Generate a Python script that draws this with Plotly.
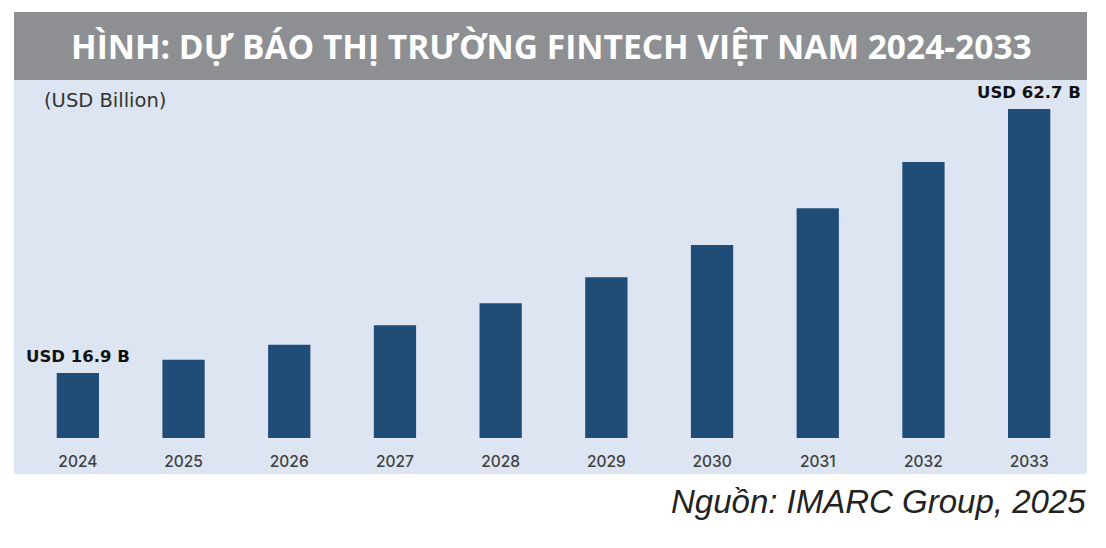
import plotly.graph_objects as go

years = ["2024", "2025", "2026", "2027", "2028", "2029", "2030", "2031", "2032", "2033"]
values = [16.9, 19.2, 21.8, 25.2, 29.0, 33.5, 39.1, 45.5, 53.5, 62.7]
first_label = "USD 16.9 B"
last_label = "USD 62.7 B"
title_text = "HÌNH: DỰ BÁO THỊ TRƯỜNG FINTECH VIỆT NAM 2024-2033"
unit_text = "(USD Billion)"
source_text = "Nguồn: IMARC Group, 2025"

W, H = 1106, 548
ml, mr, mt, mb = 25, 24, 80, 110
pw, ph = W - ml - mr, H - mt - mb

def px_x(x):
    return (x - ml) / pw

def px_y(y):
    return (H - mb - y) / ph

fig = go.Figure()
fig.add_trace(go.Bar(
    x=years, y=values,
    marker=dict(color="#1f4d78", line=dict(width=0)),
    width=0.4,
    hoverinfo="x+y",
))

shapes = [
    dict(type="rect", xref="paper", yref="paper", layer="below",
         x0=px_x(14), x1=px_x(1087), y0=px_y(474), y1=px_y(80),
         fillcolor="#dce5f1", line=dict(width=0)),
    dict(type="rect", xref="paper", yref="paper", layer="below",
         x0=px_x(14), x1=px_x(1087), y0=px_y(80), y1=px_y(12),
         fillcolor="#8e8f92", line=dict(width=0)),
    dict(type="line", xref="paper", yref="paper", layer="below",
         x0=px_x(14), x1=px_x(1087), y0=0, y1=0,
         line=dict(color="#e6ecf5", width=1)),
]

first_idx = 0
last_idx = len(years) - 1

annotations = [
    dict(text="<b>" + title_text + "</b>", xref="paper", yref="paper",
         x=px_x(551), y=px_y(46), xanchor="center", yanchor="middle",
         showarrow=False, font=dict(family="Open Sans", size=33.5, color="white")),
    dict(text=unit_text, xref="paper", yref="paper",
         x=px_x(42), y=px_y(101), xanchor="left", yanchor="middle",
         showarrow=False, font=dict(family="DejaVu Sans", size=19.5, color="#333333")),
    dict(text="<b>" + first_label + "</b>", xref="x", yref="y",
         x=first_idx, y=values[first_idx], xanchor="center", yanchor="bottom", yshift=5,
         showarrow=False, font=dict(family="DejaVu Sans", size=16.5, color="#111111")),
    dict(text="<b>" + last_label + "</b>", xref="x", yref="y",
         x=last_idx, y=values[last_idx], xanchor="center", yanchor="bottom", yshift=5,
         showarrow=False, font=dict(family="DejaVu Sans", size=16.5, color="#111111")),
    dict(text="<i>" + source_text + "</i>", xref="paper", yref="paper",
         x=px_x(1088), y=px_y(501), xanchor="right", yanchor="middle",
         showarrow=False, font=dict(family="Liberation Sans", size=33, color="#222222")),
]

fig.update_layout(
    width=W, height=H,
    margin=dict(l=ml, r=mr, t=mt, b=mb),
    paper_bgcolor="white",
    plot_bgcolor="rgba(0,0,0,0)",
    showlegend=False,
    shapes=shapes,
    annotations=annotations,
    xaxis=dict(type="category", range=[-0.5, 9.5], showgrid=False, zeroline=False,
               showline=False, ticks="", ticklabelstandoff=12,
               tickfont=dict(family="Inter", size=15.5, weight=500, color="#404040")),
    yaxis=dict(range=[5.62, 67.73], visible=False, showgrid=False, zeroline=False),
)

fig.write_html("out.html")
